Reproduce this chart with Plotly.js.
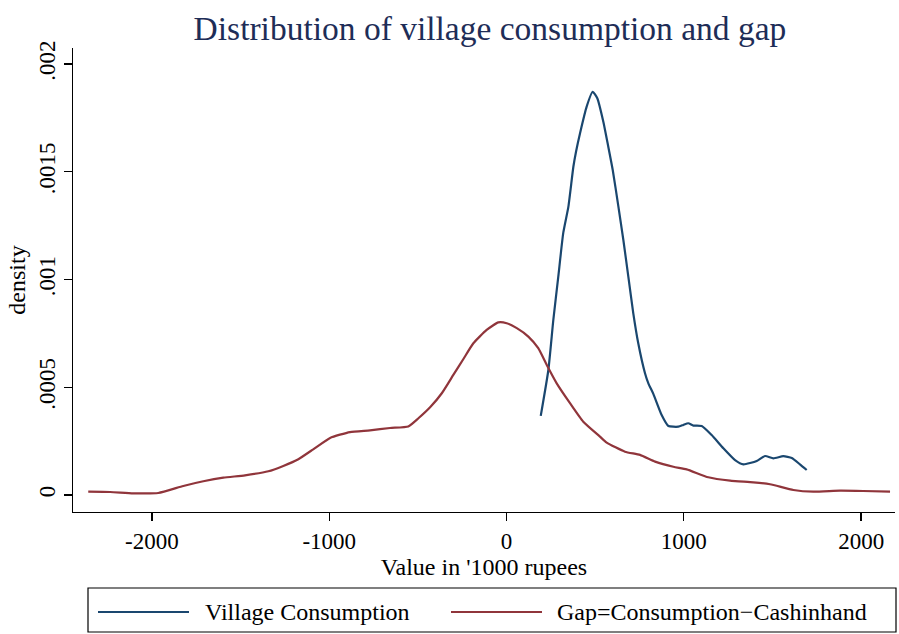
<!DOCTYPE html>
<html>
<head>
<meta charset="utf-8">
<script src="https://cdn.plot.ly/plotly-3.0.1.min.js"></script>
<style>html,body{margin:0;padding:0;background:#fff;}#chart{width:899px;height:634px;}</style>
</head>
<body>
<div id="chart"></div>
<script>
// Village Consumption density
var consX = [193, 236, 264, 292, 320, 349, 377, 392, 415, 452, 486, 512, 546, 574, 599, 631, 659, 687, 715, 743, 781, 800, 828, 875, 913, 969, 997, 1025, 1054, 1101, 1157, 1223, 1289, 1336, 1411, 1458, 1505, 1561, 1609, 1655, 1693];
var consY = [0.000367, 0.000580, 0.000812, 0.001013, 0.001216, 0.001338, 0.001523, 0.001593, 0.001680, 0.001802, 0.001871, 0.001841, 0.001732, 0.001616, 0.001508, 0.001338, 0.001183, 0.001013, 0.000843, 0.000704, 0.000565, 0.000518, 0.000469, 0.000371, 0.000320, 0.000317, 0.000325, 0.000333, 0.000322, 0.000320, 0.000278, 0.000217, 0.000162, 0.000142, 0.000158, 0.000181, 0.000170, 0.000180, 0.000172, 0.000142, 0.000116];
// Gap = Consumption - Cashinhand density
var gapX = [-2359, -2236, -2105, -1964, -1823, -1710, -1597, -1475, -1343, -1259, -1174, -1090, -995, -883, -770, -657, -554, -497, -431, -365, -300, -244, -187, -112, -46, 1, 58, 123, 179, 227, 283, 358, 433, 527, 565, 668, 753, 838, 941, 1016, 1138, 1261, 1392, 1486, 1618, 1730, 1881, 2012, 2163];
var gapY = [0.0000153, 0.0000139, 0.0000079, 0.0000093, 0.0000418, 0.0000636, 0.0000803, 0.0000914, 0.000110, 0.000135, 0.000166, 0.000212, 0.000265, 0.000292, 0.000300, 0.000311, 0.000318, 0.000356, 0.000407, 0.000472, 0.000557, 0.000630, 0.000704, 0.000766, 0.000801, 0.000797, 0.000774, 0.000735, 0.000681, 0.000603, 0.000518, 0.000426, 0.000340, 0.000271, 0.000243, 0.000201, 0.000186, 0.000155, 0.000131, 0.000119, 0.0000821, 0.0000664, 0.0000589, 0.0000497, 0.0000232, 0.0000153, 0.0000200, 0.0000186, 0.0000153];

var seriesNames = ["Village Consumption", "Gap=Consumption\u2212Cashinhand"];
var xTickVals = [-2000, -1000, 0, 1000, 2000];
var xTickText = ["-2000", "-1000", "0", "1000", "2000"];
var yTickVals = [0, 0.0005, 0.001, 0.0015, 0.002];
var yTickText = ["0", ".0005", ".001", ".0015", ".002"];

var colors = ["#1a476f", "#90353b"];
var font = "Liberation Serif, Times New Roman, serif";

var traces = [
  {x: consX, y: consY, mode: "lines", name: seriesNames[0], line: {color: colors[0], width: 2.2, shape: "spline", smoothing: 0.5}, showlegend: false},
  {x: gapX, y: gapY, mode: "lines", name: seriesNames[1], line: {color: colors[1], width: 2.2, shape: "spline", smoothing: 0.5}, showlegend: false}
];

// manual legend (paper coords)
var lx = function(px){ return (px - 73) / 822; };
var ly = function(py){ return (512 - py) / 464; };
var legY = 612;

var layout = {
  width: 899, height: 634,
  margin: {l: 73, r: 4, t: 48, b: 122},
  paper_bgcolor: "#ffffff", plot_bgcolor: "#ffffff",
  font: {family: font, size: 23, color: "#000"},
  title: {text: "Distribution of village consumption and gap", font: {family: font, size: 33.5, color: "#1e2d57"}, x: 0.545, xanchor: "center", y: 0.955, yanchor: "middle"},
  xaxis: {
    range: [-2445, 2191], showgrid: false, zeroline: false,
    showline: true, linecolor: "#000", linewidth: 1.3,
    ticks: "outside", ticklen: 8, tickwidth: 1.3, tickcolor: "#000",
    tickvals: xTickVals, ticktext: xTickText,
    tickfont: {family: font, size: 23, color: "#000"},
    title: {text: "Value in '1000 rupees", font: {family: font, size: 24, color: "#000"}, standoff: 2}
  },
  yaxis: {
    range: [-0.0000789, 0.002074], showgrid: false, zeroline: false,
    showline: true, linecolor: "#000", linewidth: 1.3,
    ticks: "outside", ticklen: 8, tickwidth: 1.3, tickcolor: "#000",
    tickvals: yTickVals, ticktext: yTickText, tickangle: -90,
    tickfont: {family: font, size: 23, color: "#000"},
    title: {text: "density", font: {family: font, size: 24, color: "#000"}, standoff: 2}
  },
  shapes: [
    {type: "rect", xref: "paper", yref: "paper", x0: lx(88), x1: lx(896), y0: ly(632), y1: ly(588), line: {color: "#000", width: 1.2}, fillcolor: "rgba(0,0,0,0)"},
    {type: "line", xref: "paper", yref: "paper", x0: lx(98), x1: lx(189), y0: ly(legY), y1: ly(legY), line: {color: colors[0], width: 2.2}},
    {type: "line", xref: "paper", yref: "paper", x0: lx(451), x1: lx(542), y0: ly(legY), y1: ly(legY), line: {color: colors[1], width: 2.2}}
  ],
  annotations: [
    {xref: "paper", yref: "paper", x: lx(203), y: ly(legY), xanchor: "left", yanchor: "middle", text: seriesNames[0], showarrow: false, font: {family: font, size: 24, color: "#000"}},
    {xref: "paper", yref: "paper", x: lx(555), y: ly(legY), xanchor: "left", yanchor: "middle", text: seriesNames[1], showarrow: false, font: {family: font, size: 24, color: "#000"}}
  ]
};

Plotly.newPlot("chart", traces, layout, {displayModeBar: false, staticPlot: true});
</script>
</body>
</html>
